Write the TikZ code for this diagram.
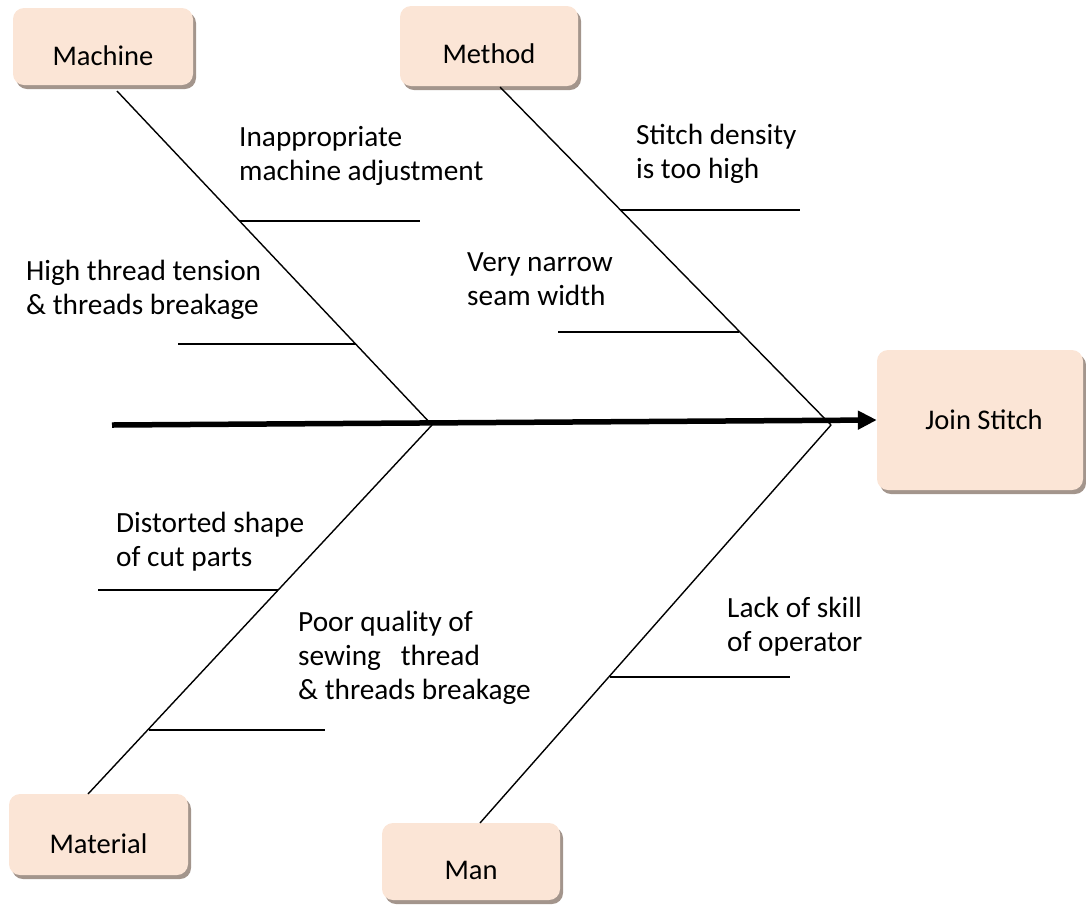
\documentclass[tikz,border=0pt]{standalone}
\usepackage{fontspec}
\setmainfont{Carlito}
\usetikzlibrary{shadows,arrows.meta}
\definecolor{boxfill}{HTML}{FBE5D6}
\definecolor{boxshade}{HTML}{A3958C}
\begin{document}
\begin{tikzpicture}[x=1pt,y=-1pt,
  catbox/.style={fill=boxfill, rounded corners=11pt, inner sep=0pt,
    drop shadow={shadow xshift=3pt, shadow yshift=-4pt, fill=boxshade, opacity=1}},
  cattext/.style={font=\fontsize{28.5}{34}\selectfont, inner sep=0pt},
  note/.style={font=\fontsize{29.3}{34}\selectfont, align=left, anchor=north west, inner sep=0pt},
  bone/.style={line width=1.4pt},
  rib/.style={line width=1.4pt},
  spine/.style={line width=5.5pt, -{Triangle[length=19pt,width=18pt]}}]
\useasboundingbox (0,0) rectangle (1086,906);

% category boxes
\node[catbox, minimum width=180pt, minimum height=77pt] (machine) at (103,46.5) {};
\node[catbox, minimum width=178pt, minimum height=80pt] (method) at (489,46) {};
\node[catbox, minimum width=179pt, minimum height=81pt] (material) at (98.5,834.5) {};
\node[catbox, minimum width=178pt, minimum height=77pt] (man) at (471,861.5) {};
\node[catbox, minimum width=206pt, minimum height=140pt] (effect) at (980,420) {};

\node[cattext] (machinelbl) at ([yshift=-9pt]machine.center) {Machine};
\node[cattext] (methodlbl) at ([yshift=-8pt]method.center) {Method};
\node[cattext] (materiallbl) at ([yshift=-9pt]material.center) {Material};
\node[cattext] (manlbl) at ([yshift=-9pt]man.center) {Man};
\node[cattext] (effectlbl) at ([xshift=4pt]effect.center) {Join Stitch};

% skeleton points
\coordinate (tail) at (112,425);
\coordinate (jleft) at (432,425);
\coordinate (jright) at (831,425);
\coordinate (machineend) at (117,91);
\coordinate (methodend) at (500,87);
\coordinate (materialend) at (88,794);
\coordinate (manend) at (480,823);

% main spine and bones
\draw[spine] (tail) -- (effect.west);
\draw[bone] (machineend) -- (jleft);
\draw[bone] (methodend) -- (jright);
\draw[bone] (jleft) -- (materialend);
\draw[bone] (jright) -- (manend);

% ribs
\coordinate (r1a) at (240,221); \coordinate (r1b) at (420,221);
\coordinate (r2a) at (178,344); \coordinate (r2b) at (356,344);
\coordinate (r3a) at (620,210); \coordinate (r3b) at (800,210);
\coordinate (r4a) at (558,332); \coordinate (r4b) at (739,332);
\coordinate (r5a) at (98,590);  \coordinate (r5b) at (278,590);
\coordinate (r6a) at (149,730); \coordinate (r6b) at (325,730);
\coordinate (r7a) at (610,677); \coordinate (r7b) at (790,677);
\draw[rib] (r1a) -- (r1b);
\draw[rib] (r2a) -- (r2b);
\draw[rib] (r3a) -- (r3b);
\draw[rib] (r4a) -- (r4b);
\draw[rib] (r5a) -- (r5b);
\draw[rib] (r6a) -- (r6b);
\draw[rib] (r7a) -- (r7b);

% cause texts
\node[note] (c1) at (239,122) {\strut Inappropriate\\\strut machine adjustment};
\node[note] (c2) at (26,256) {\strut High thread tension\\\strut \& threads breakage};
\node[note] (c3) at (636,120) {\strut Stitch density\\\strut is too high};
\node[note] (c4) at (467,247) {\strut Very narrow\\\strut seam width};
\node[note] (c5) at (116,508) {\strut Distorted shape\\\strut of cut parts};
\node[note] (c6) at (298,607) {\strut Poor quality of\\\strut sewing\ \ \ thread\\\strut \& threads breakage};
\node[note] (c7) at (727,593) {\strut Lack of skill\\\strut of operator};
\end{tikzpicture}
\end{document}
